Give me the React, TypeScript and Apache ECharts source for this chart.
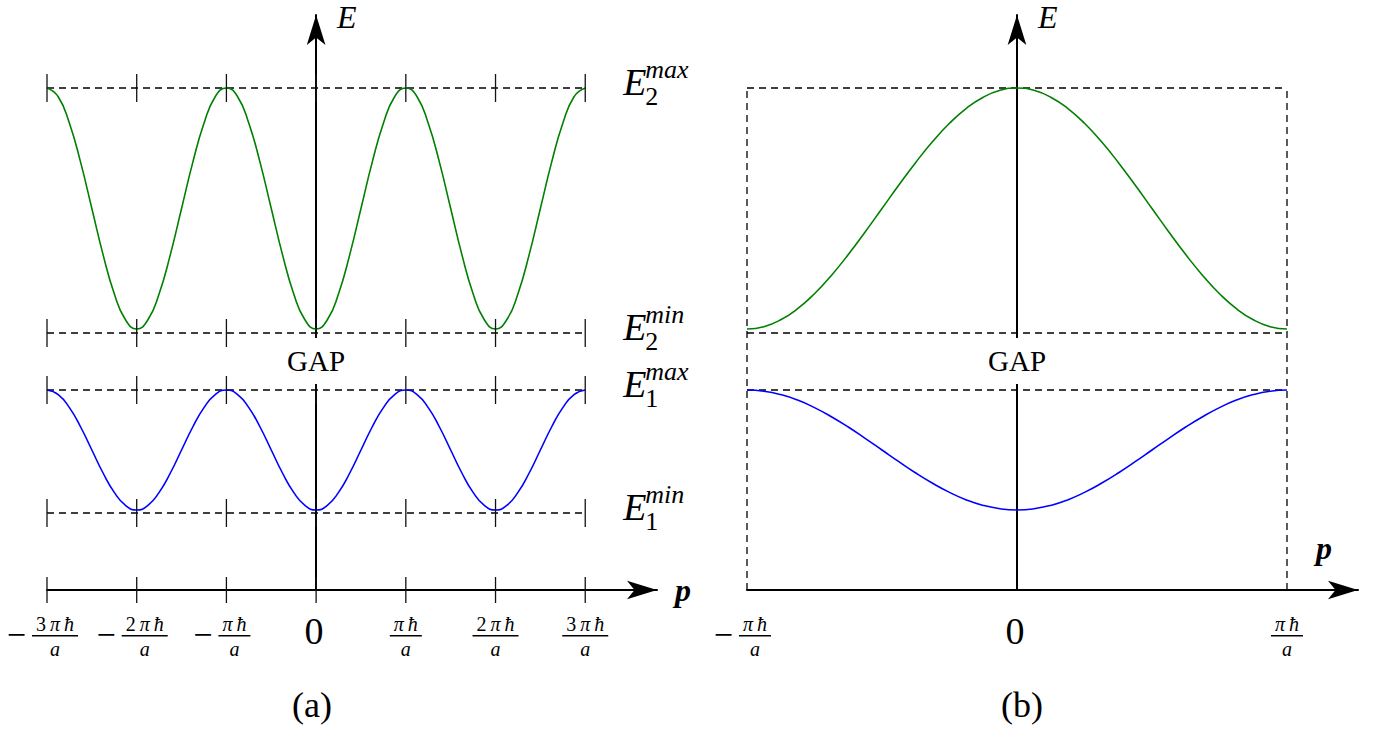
import { useEffect, useRef } from 'react';
import * as echarts from 'echarts';

const SERIF = '"Liberation Serif", "Times New Roman", serif';

// Band edges (energy units on the E axis)
const E2_MAX = 5.02;
const E2_MIN_GUIDE = 2.57;
const E1_MAX = 2.0;
const E1_MIN_GUIDE = 0.77;
const GAP_CENTER = 2.29;

// (a) extended-zone scheme, p in units of πħ/a
const extP = [
  -3, -2.875, -2.75, -2.625, -2.5, -2.375, -2.25, -2.125,
  -2, -1.875, -1.75, -1.625, -1.5, -1.375, -1.25, -1.125,
  -1, -0.875, -0.75, -0.625, -0.5, -0.375, -0.25, -0.125,
  0, 0.125, 0.25, 0.375, 0.5, 0.625, 0.75, 0.875,
  1, 1.125, 1.25, 1.375, 1.5, 1.625, 1.75, 1.875,
  2, 2.125, 2.25, 2.375, 2.5, 2.625, 2.75, 2.875, 3,
];
const extUpper = [
  5.02, 4.933, 4.667, 4.276, 3.815, 3.354, 2.963, 2.702,
  2.61, 2.702, 2.963, 3.354, 3.815, 4.276, 4.667, 4.933,
  5.02, 4.933, 4.667, 4.276, 3.815, 3.354, 2.963, 2.702,
  2.61, 2.702, 2.963, 3.354, 3.815, 4.276, 4.667, 4.933,
  5.02, 4.933, 4.667, 4.276, 3.815, 3.354, 2.963, 2.702,
  2.61, 2.702, 2.963, 3.354, 3.815, 4.276, 4.667, 4.933, 5.02,
];
const extLower = [
  2.0, 1.954, 1.824, 1.63, 1.4, 1.17, 0.976, 0.846,
  0.8, 0.846, 0.976, 1.17, 1.4, 1.63, 1.824, 1.954,
  2.0, 1.954, 1.824, 1.63, 1.4, 1.17, 0.976, 0.846,
  0.8, 0.846, 0.976, 1.17, 1.4, 1.63, 1.824, 1.954,
  2.0, 1.954, 1.824, 1.63, 1.4, 1.17, 0.976, 0.846,
  0.8, 0.846, 0.976, 1.17, 1.4, 1.63, 1.824, 1.954, 2.0,
];

// (b) reduced-zone scheme
const redP = [
  -1, -0.9375, -0.875, -0.8125, -0.75, -0.6875, -0.625, -0.5625,
  -0.5, -0.4375, -0.375, -0.3125, -0.25, -0.1875, -0.125, -0.0625,
  0, 0.0625, 0.125, 0.1875, 0.25, 0.3125, 0.375, 0.4375,
  0.5, 0.5625, 0.625, 0.6875, 0.75, 0.8125, 0.875, 0.9375, 1,
];
const redUpper = [
  2.61, 2.633, 2.702, 2.813, 2.963, 3.146, 3.354, 3.58,
  3.815, 4.05, 4.276, 4.484, 4.667, 4.817, 4.928, 4.997,
  5.02, 4.997, 4.928, 4.817, 4.667, 4.484, 4.276, 4.05,
  3.815, 3.58, 3.354, 3.146, 2.963, 2.813, 2.702, 2.633, 2.61,
];
const redLower = [
  2.0, 1.988, 1.954, 1.899, 1.824, 1.733, 1.63, 1.517,
  1.4, 1.283, 1.17, 1.067, 0.976, 0.901, 0.846, 0.812,
  0.8, 0.812, 0.846, 0.901, 0.976, 1.067, 1.17, 1.283,
  1.4, 1.517, 1.63, 1.733, 1.824, 1.899, 1.954, 1.988, 2.0,
];

// Tick positions and numerators of the p-axis labels (value = numerator / a)
const extTicks = [-3, -2, -1, 0, 1, 2, 3];
const extTickNums = ['3πħ', '2πħ', 'πħ', '0', 'πħ', '2πħ', '3πħ'];
const redTicks = [-1, 0, 1];
const redTickNums = ['πħ', '0', 'πħ'];

// Energy levels marked on the right of (a)
const levelValues = [E2_MAX, E2_MIN_GUIDE, E1_MAX, E1_MIN_GUIDE];
const levelSup = ['max', 'min', 'max', 'min'];
const levelSub = ['2', '2', '1', '1'];

const GREEN = '#008000';
const BLUE = '#0000ff';
const DASH = { type: [7, 5], width: 1.3, color: '#000' };

function fractionLabels(ticks: number[], nums: string[]) {
  return (params: any, api: any) => {
    const i = params.dataIndex;
    const v = ticks[i];
    const pt = api.coord([v, 0]);
    const px = pt[0];
    const py = pt[1];
    if (v === 0) {
      return {
        type: 'text',
        style: { text: '0', x: px - 2, y: py + 41, align: 'center', verticalAlign: 'middle', fontSize: 38, fontFamily: SERIF, fill: '#000' },
      };
    }
    const num = nums[i];
    const digit = num.length > 2 ? num[0] : '';
    const w = digit ? 46 : 32;
    const cx = v < 0 ? px + 8 : px;
    const children: any[] = [
      {
        type: 'text',
        style: {
          text: (digit ? `{d|${digit}\u2009}` : '') + '{g|π\u2009ħ}',
          rich: {
            d: { fontSize: 20, lineHeight: 18, fontFamily: SERIF, fill: '#000' },
            g: { fontSize: 20, lineHeight: 18, fontFamily: SERIF, fontStyle: 'italic', fill: '#000' },
          },
          x: cx,
          y: py + 34,
          align: 'center',
          verticalAlign: 'middle',
        },
      },
      { type: 'rect', shape: { x: cx - w / 2, y: py + 45, width: w, height: 1.5 }, style: { fill: '#000' } },
      {
        type: 'text',
        style: { text: 'a', x: cx, y: py + 59, align: 'center', verticalAlign: 'middle', fontSize: 20, lineHeight: 18, fontStyle: 'italic', fontFamily: SERIF, fill: '#000' },
      },
    ];
    if (v < 0) {
      children.push({
        type: 'text',
        style: { text: '−', x: cx - w / 2 - 6, y: py + 44, align: 'right', verticalAlign: 'middle', fontSize: 34, lineHeight: 18, fontFamily: SERIF, fill: '#000' },
      });
    }
    return { type: 'group', children };
  };
}

function levelLabels(params: any, api: any) {
  const i = params.dataIndex;
  const pt = api.coord([3, levelValues[i]]);
  const x0 = pt[0] + 38;
  const py = pt[1];
  return {
    type: 'group',
    children: [
      { type: 'text', style: { text: 'E', x: x0, y: py - 6, align: 'left', verticalAlign: 'middle', fontSize: 38, fontStyle: 'italic', fontFamily: SERIF, fill: '#000' } },
      { type: 'text', style: { text: levelSup[i], x: x0 + 22, y: py - 19, align: 'left', verticalAlign: 'middle', fontSize: 26, fontStyle: 'italic', fontFamily: SERIF, fill: '#000' } },
      { type: 'text', style: { text: levelSub[i], x: x0 + 22, y: py + 8, align: 'left', verticalAlign: 'middle', fontSize: 26, fontFamily: SERIF, fill: '#000' } },
    ],
  };
}

function hLine(xi: number, x0: number, x1: number, y: number) {
  return { type: 'line', xAxisIndex: xi, yAxisIndex: xi, silent: true, symbol: 'none', z: 1, lineStyle: DASH, data: [[x0, y], [x1, y]] };
}
function vLine(xi: number, x: number, y0: number, y1: number) {
  return { type: 'line', xAxisIndex: xi, yAxisIndex: xi, silent: true, symbol: 'none', z: 1, lineStyle: DASH, data: [[x, y0], [x, y1]] };
}
function curve(xi: number, xs: number[], ys: number[], color: string) {
  return {
    type: 'line', xAxisIndex: xi, yAxisIndex: xi, silent: true, symbol: 'none', smooth: true, z: 3,
    lineStyle: { color, width: 1.6 }, data: xs.map((x, k) => [x, ys[k]]),
  };
}
function gapLabel(xi: number) {
  return {
    type: 'scatter', xAxisIndex: xi, yAxisIndex: xi, silent: true, symbolSize: 0, z: 10,
    itemStyle: { opacity: 1 },
    data: [[0, GAP_CENTER]],
    label: {
      show: true, position: 'inside', formatter: 'GAP', fontSize: 29, fontFamily: SERIF, color: '#000',
      backgroundColor: '#fff', padding: [8, 3], lineHeight: 30, opacity: 1,
    },
  };
}

function axisPair(grid: number, min: number, max: number, xName: any) {
  const line = { show: true, onZero: true, symbol: ['none', 'arrow'], symbolSize: [14, 30], lineStyle: { color: '#000', width: 2 } };
  return {
    x: {
      gridIndex: grid, type: 'value', min, max, interval: 1,
      axisLine: line, axisTick: { show: false }, axisLabel: { show: false }, splitLine: { show: false },
      nameLocation: 'end', ...xName,
    },
    y: {
      gridIndex: grid, type: 'value', min: 0, max: 5.75,
      axisLine: line, axisTick: { show: false }, axisLabel: { show: false }, splitLine: { show: false },
      name: 'E', nameLocation: 'end', nameGap: -2,
      nameTextStyle: { fontFamily: SERIF, fontStyle: 'italic', fontSize: 32, color: '#000', align: 'left', verticalAlign: 'middle', padding: [0, 0, 0, 21] },
    },
  };
}

export default function App() {
  const ref = useRef<HTMLDivElement>(null);

  useEffect(() => {
    document.body.style.margin = '0';
    if (!ref.current) return;
    const chart = echarts.init(ref.current, undefined, { renderer: 'svg' });

    const pStyle = { fontFamily: SERIF, fontStyle: 'italic', fontWeight: 'bold', fontSize: 32, color: '#000' };
    const a = axisPair(0, -3, 3.8, { name: 'p', nameGap: 18, nameTextStyle: { ...pStyle, align: 'left', verticalAlign: 'middle' } });
    const b = axisPair(1, -1, 1.263, {});

    const extLevelTicks: number[][] = [];
    extTicks.forEach((x) => levelValues.forEach((l) => extLevelTicks.push([x, l])));

    const captionStyle = { fontFamily: SERIF, fontSize: 36, fontWeight: 'normal', color: '#000' };
    const option: any = {
      animation: false,
      textStyle: { fontFamily: SERIF },
      title: [
        { text: '(a)', left: 307, top: 682, textAlign: 'center', textStyle: captionStyle },
        { text: '(b)', left: 1017, top: 682, textAlign: 'center', textStyle: captionStyle },
        { text: 'p', left: 1316, top: 532, padding: 0, textStyle: pStyle },
      ],
      grid: [
        { left: 47, top: 15, width: 610, height: 575, containLabel: false, outerBoundsMode: 'none' },
        { left: 747, top: 15, width: 611, height: 575, containLabel: false, outerBoundsMode: 'none' },
      ],
      xAxis: [a.x, b.x],
      yAxis: [a.y, b.y],
      series: [
        // dashed guides
        ...levelValues.map((l) => hLine(0, -3, 3, l)),
        hLine(1, -1, 1, E2_MAX),
        hLine(1, -1, 1, E2_MIN_GUIDE),
        hLine(1, -1, 1, E1_MAX),
        vLine(1, -1, 0, E2_MAX),
        vLine(1, 1, 0, E2_MAX),
        // bands
        curve(0, extP, extUpper, GREEN),
        curve(0, extP, extLower, BLUE),
        curve(1, redP, redUpper, GREEN),
        curve(1, redP, redLower, BLUE),
        // tick marks of (a)
        {
          type: 'scatter', xAxisIndex: 0, yAxisIndex: 0, silent: true, symbol: 'rect', symbolSize: [1.3, 28], z: 4,
          itemStyle: { color: '#111', opacity: 1 }, data: extLevelTicks,
        },
        {
          type: 'scatter', xAxisIndex: 0, yAxisIndex: 0, silent: true, symbol: 'rect', symbolSize: [1.3, 26], z: 4,
          itemStyle: { color: '#111', opacity: 1 }, data: extTicks.map((x) => [x, 0]),
        },
        gapLabel(0),
        gapLabel(1),
        {
          type: 'custom', xAxisIndex: 0, yAxisIndex: 0, silent: true, clip: false, z: 5,
          data: extTicks.map((x) => [x, 0]), renderItem: fractionLabels(extTicks, extTickNums),
        },
        {
          type: 'custom', xAxisIndex: 1, yAxisIndex: 1, silent: true, clip: false, z: 5,
          data: redTicks.map((x) => [x, 0]), renderItem: fractionLabels(redTicks, redTickNums),
        },
        {
          type: 'custom', xAxisIndex: 0, yAxisIndex: 0, silent: true, clip: false, z: 5,
          data: levelValues.map((l) => [3, l]), renderItem: levelLabels,
        },
      ],
    };

    chart.setOption(option);
    return () => chart.dispose();
  }, []);

  return <div ref={ref} style={{ width: 1381, height: 729 }} />;
}
